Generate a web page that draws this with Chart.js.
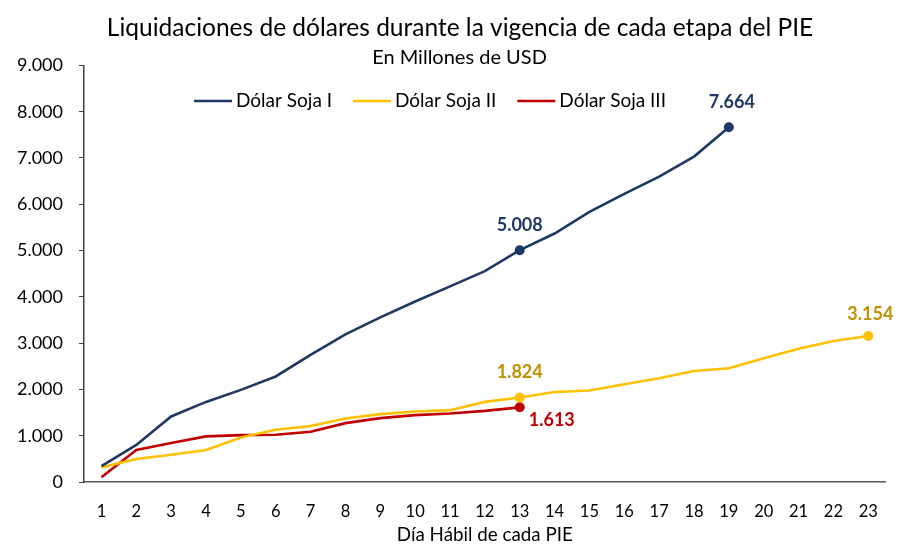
<!DOCTYPE html>
<html><head><meta charset="utf-8">
<script src="https://cdn.jsdelivr.net/npm/chart.js@4/dist/chart.umd.min.js"></script>
<style>html,body{margin:0;padding:0;background:#fff}#wrap{width:898px;height:546px;position:relative}</style>
</head><body><div id="wrap"><canvas id="c"></canvas></div>
<script>
const days = ['1','2','3','4','5','6','7','8','9','10','11','12','13','14','15','16','17','18','19','20','21','22','23'];
const seriesNames = ['Dólar Soja I', 'Dólar Soja II', 'Dólar Soja III'];
const sojaI = [345, 800, 1415, 1730, 1990, 2280, 2745, 3190, 3555, 3900, 4225, 4555, 5008, 5368, 5835, 6225, 6595, 7030, 7664];
const sojaII = [316, 496, 588, 690, 963, 1127, 1210, 1373, 1466, 1524, 1552, 1731, 1824, 1946, 1975, 2112, 2241, 2399, 2457, 2672, 2881, 3045, 3154];
const sojaIII = [101, 690, 841, 985, 1013, 1020, 1085, 1272, 1380, 1444, 1480, 1537, 1613];
const labeledI = [12, 18];
const labeledII = [12, 22];
const labeledIII = [12];
const yTicks = [0, 1000, 2000, 3000, 4000, 5000, 6000, 7000, 8000, 9000];

const FONT = 'Lato, "Noto Sans", sans-serif';
const colors = ['#203864', '#FFC000', '#C00000'];
const labelColors = ['#203864', '#BF9000', '#C00000'];
const labeled = [labeledI, labeledII, labeledIII];
const labelPos = {
  '0-12': {dx: 0, dy: -25, align: 'center'},
  '0-18': {dx: 3, dy: -25, align: 'center'},
  '1-12': {dx: 0, dy: -25, align: 'center'},
  '1-22': {dx: 2, dy: -22, align: 'center'},
  '2-12': {dx: 9, dy: 13, align: 'left'}
};
const fmt = v => String(Math.round(v)).replace(/\B(?=(\d{3})+(?!\d))/g, '.');

const dataLabels = {
  id: 'dataLabels',
  afterDatasetsDraw(chart) {
    const ctx = chart.ctx;
    ctx.save();
    ctx.font = 'bold 18px ' + FONT;
    ctx.textBaseline = 'middle';
    chart.data.datasets.forEach((ds, di) => {
      const meta = chart.getDatasetMeta(di);
      labeled[di].forEach(i => {
        const el = meta.data[i];
        const p = labelPos[di + '-' + i];
        ctx.fillStyle = labelColors[di];
        ctx.textAlign = p.align;
        ctx.fillText(fmt(ds.data[i]), el.x + p.dx, el.y + p.dy);
      });
    });
    ctx.restore();
  }
};
const lineLegend = {
  id: 'lineLegend',
  afterDraw(chart) {
    const ctx = chart.ctx;
    ctx.save();
    ctx.font = '19px ' + FONT;
    ctx.textBaseline = 'middle';
    ctx.textAlign = 'left';
    let x = 194;
    const y = 101;
    chart.data.datasets.forEach(ds => {
      ctx.strokeStyle = ds.borderColor;
      ctx.lineWidth = 2.6;
      ctx.beginPath();
      ctx.moveTo(x, y);
      ctx.lineTo(x + 38, y);
      ctx.stroke();
      ctx.fillStyle = '#000';
      ctx.fillText(ds.label, x + 42, y);
      x += 42 + ctx.measureText(ds.label).width + 21;
    });
    ctx.restore();
  }
};
const titleShift = {
  id: 'titleShift',
  afterLayout(chart) {
    const t = chart.titleBlock, s = chart._subtitle || (chart.boxes || []).find(b => b.options && b.options.text === 'En Millones de USD' && b !== t);
    if (t) { t.left += 14; t.right += 14; }
    if (s) { s.left += 13.5; s.right += 13.5; }
  }
};

const mk = (arr, di) => ({
  label: seriesNames[di],
  data: arr,
  borderColor: colors[di],
  backgroundColor: colors[di],
  borderWidth: 2.6,
  tension: 0,
  pointRadius: ctx => labeled[di].includes(ctx.dataIndex) ? 5 : 0,
  pointBackgroundColor: colors[di],
  pointBorderWidth: 0,
  clip: false
});

new Chart(document.getElementById('c'), {
  type: 'line',
  data: {
    labels: days,
    datasets: [mk(sojaI, 0), mk(sojaII, 1), mk(sojaIII, 2)]
  },
  options: {
    responsive: true,
    maintainAspectRatio: false,
    animation: false,
    layout: {padding: {left: 0, right: 6, top: 0, bottom: 0}},
    plugins: {
      title: {
        display: true,
        text: 'Liquidaciones de dólares durante la vigencia de cada etapa del PIE',
        color: '#000',
        font: {family: FONT, size: 24.5, weight: 'normal', lineHeight: 1.2},
        padding: {top: 13, bottom: 2}
      },
      subtitle: {
        display: true,
        text: 'En Millones de USD',
        color: '#000',
        font: {family: FONT, size: 20, weight: 'normal', lineHeight: 1},
        padding: {top: 3.5, bottom: -2.5}
      },
      legend: {display: false},
      tooltip: {enabled: false}
    },
    scales: {
      x: {
        offset: true,
        grid: {display: false, drawTicks: false},
        border: {display: true, color: '#595959', width: 1.5},
        ticks: {color: '#000', font: {family: FONT, size: 16.5}, padding: 20, maxRotation: 0, autoSkip: false},
        title: {display: true, text: 'Día Hábil de cada PIE', color: '#000', font: {family: FONT, size: 18.8}, padding: {top: 0, bottom: 0}},
        afterFit: s => { s.height = 64; }
      },
      y: {
        min: 0, max: 9000,
        afterBuildTicks: s => { s.ticks = yTicks.map(v => ({value: v})); },
        grid: {display: true, drawOnChartArea: false, drawTicks: true, tickLength: 5, color: '#404040'},
        border: {display: true, color: '#404040', width: 1.5},
        ticks: {color: '#000', font: {family: FONT, size: 18}, padding: 16, callback: v => fmt(v)},
        afterFit: s => { s.width = 84; }
      }
    }
  },
  plugins: [dataLabels, lineLegend, titleShift]
});
</script></body></html>
